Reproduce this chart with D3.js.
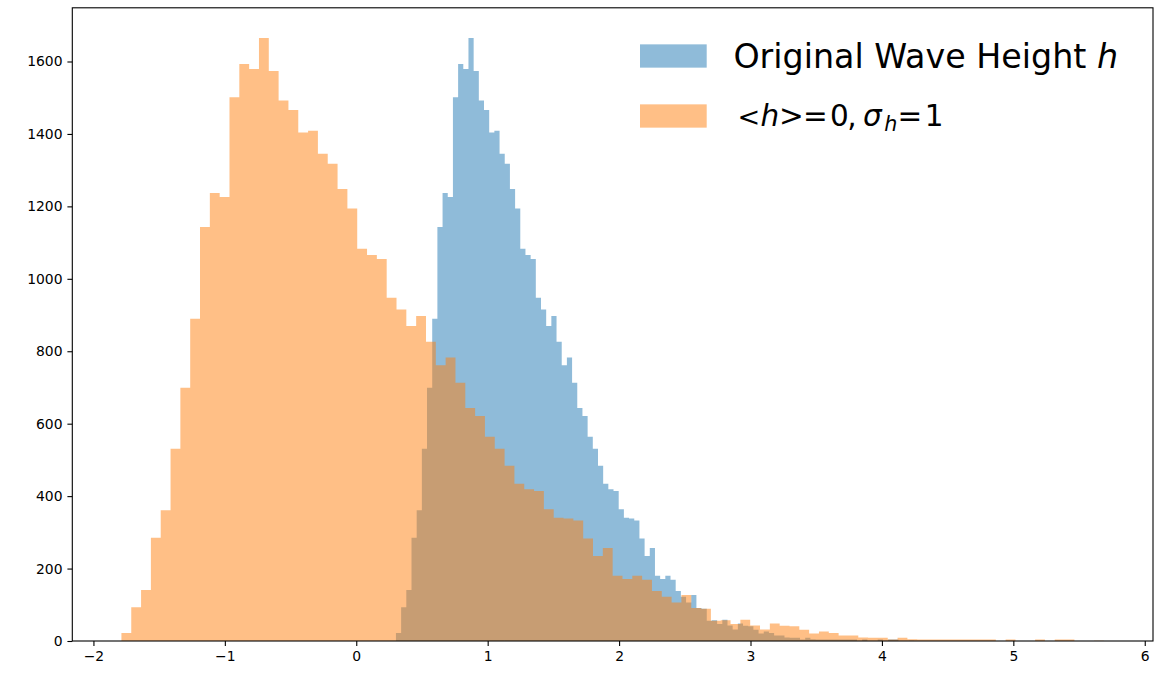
<!DOCTYPE html>
<html>
<head>
<meta charset="utf-8">
<script src="https://cdn.jsdelivr.net/npm/d3@7"></script>
<style>
  html, body { margin: 0; padding: 0; background: #fff; }
  svg { display: block; font-family: "DejaVu Sans", sans-serif; }
</style>
</head>
<body>
<svg id="chart" width="1155" height="673"></svg>
<script>
// Counts per bin of the wave-height sample (100 bins). Standardising h is a
// linear map, so both histograms share these counts; only the bin edges move.
const binCounts = [
  22, 93, 141, 285, 361, 531, 699, 890, 1143, 1237,
  1226, 1501, 1593, 1579, 1665, 1574, 1492, 1466, 1404, 1409,
  1345, 1318, 1248, 1194, 1083, 1066, 1055, 948, 915, 870,
  897, 826, 761, 783, 713, 643, 621, 564, 531, 484,
  434, 419, 414, 364, 340, 338, 333, 283, 235, 257,
  180, 171, 180, 169, 138, 122, 106, 127, 91, 89,
  56, 57, 47, 59, 43, 32, 48, 42, 41, 31,
  21, 26, 22, 15, 15, 10, 9, 9, 4, 9,
  5, 4, 4, 4, 4, 4, 4, 4, 4, 0,
  4, 0, 0, 4, 0, 4, 4, 0, 0, 1
];

// Bin range of the raw heights h and of the standardised (h - <h>) / sigma_h
const rawRange = [0.302, 4.244];
const stdRange = [-1.787, 5.689];

const xTickValues = [-2, -1, 0, 1, 2, 3, 4, 5, 6];
const yTickValues = [0, 200, 400, 600, 800, 1000, 1200, 1400, 1600];

const seriesColors = ["#1f77b4", "#ff7f0e"];
const barOpacity = 0.5;

// ---- layout -------------------------------------------------------------
const plot = { left: 72.3, right: 1153, top: 7.8, bottom: 641 };
const tickFont = 13.9;
const legendFont = 33.3;
const mathFont = 29.5;

const svg = d3.select("#chart");

// matplotlib-like autoscale: 5% margin on x, 5% headroom on y
const lo = Math.min(rawRange[0], stdRange[0]);
const hi = Math.max(rawRange[1], stdRange[1]);
const pad = (hi - lo) * 0.05;
const x = d3.scaleLinear().domain([lo - pad, hi + pad]).range([plot.left, plot.right]);
const y = d3.scaleLinear().domain([0, d3.max(binCounts) * 1.05]).range([plot.bottom, plot.top]);

function binsFor(range) {
  const w = (range[1] - range[0]) / binCounts.length;
  return binCounts.map((c, i) => ({ x0: range[0] + i * w, x1: range[0] + (i + 1) * w, count: c }));
}

svg.append("clipPath").attr("id", "plotclip")
  .append("rect")
  .attr("x", plot.left).attr("y", plot.top)
  .attr("width", plot.right - plot.left).attr("height", plot.bottom - plot.top);

const bars = svg.append("g").attr("clip-path", "url(#plotclip)");

// each histogram is one path of bin rectangles, so neighbouring bars join cleanly
[rawRange, stdRange].forEach((range, s) => {
  const p = d3.path();
  binsFor(range).filter(d => d.count > 0).forEach(d => {
    p.rect(x(d.x0), y(d.count), x(d.x1) - x(d.x0), y(0) - y(d.count));
  });
  bars.append("path")
    .attr("d", p.toString())
    .attr("fill", seriesColors[s])
    .attr("fill-opacity", barOpacity);
});

// ---- axes -------------------------------------------------------------
const fmt = d => (d < 0 ? "\u2212" + Math.abs(d) : String(d));

const xAxis = svg.append("g")
  .attr("transform", `translate(0,${plot.bottom})`)
  .call(d3.axisBottom(x).tickValues(xTickValues).tickFormat(fmt).tickSize(4.9).tickPadding(4.9));

const yAxis = svg.append("g")
  .attr("transform", `translate(${plot.left},0)`)
  .call(d3.axisLeft(y).tickValues(yTickValues).tickFormat(fmt).tickSize(4.9).tickPadding(4.9));

[xAxis, yAxis].forEach(g => {
  g.select(".domain").remove();
  g.attr("font-family", "DejaVu Sans, sans-serif").attr("font-size", tickFont);
  g.selectAll(".tick line").attr("stroke", "#000").attr("stroke-width", 1.1);
  g.selectAll(".tick text").attr("fill", "#000");
});

// frame
svg.append("rect")
  .attr("x", plot.left).attr("y", plot.top)
  .attr("width", plot.right - plot.left).attr("height", plot.bottom - plot.top)
  .attr("fill", "none").attr("stroke", "#000").attr("stroke-width", 1.1);

// ---- legend -------------------------------------------------------------
const legend = svg.append("g").attr("font-size", legendFont).attr("fill", "#000");
const handleX = 640, handleW = 66.7, handleH = 23.3;
const rows = [56, 116]; // vertical centres of the handles

rows.forEach((cy, s) => {
  legend.append("rect")
    .attr("x", handleX).attr("y", cy - handleH / 2)
    .attr("width", handleW).attr("height", handleH)
    .attr("fill", seriesColors[s]).attr("fill-opacity", barOpacity);
});

const textX = handleX + handleW + 26.7;
const row1 = legend.append("text").attr("x", textX).attr("y", 68);
row1.append("tspan").text("Original Wave Height ");
row1.append("tspan").attr("font-style", "italic").text("h");

// "<h> = 0, σ_h = 1" typeset glyph by glyph, math style
const base2 = 125.5;
const mathPieces = [
  { t: "<", x: 737.5, size: 0.92 },
  { t: "h", x: 760.5, it: true },
  { t: ">", x: 779 },
  { t: "=", x: 803 },
  { t: "0", x: 830.1 },
  { t: ",", x: 847.3 },
  { t: "\u03c3", x: 863, it: true },
  { t: "h", x: 884.2, it: true, sub: true },
  { t: "=", x: 897.6 },
  { t: "1", x: 924.7 }
];
const row2 = legend.append("text").attr("y", base2);
mathPieces.forEach(p => {
  row2.append("tspan")
    .attr("x", p.x)
    .attr("y", base2 + (p.sub ? 5.5 : 0))
    .attr("font-size", mathFont * (p.sub ? 0.7 : (p.size || 1)))
    .attr("font-style", p.it ? "italic" : null)
    .text(p.t);
});
</script>
</body>
</html>
